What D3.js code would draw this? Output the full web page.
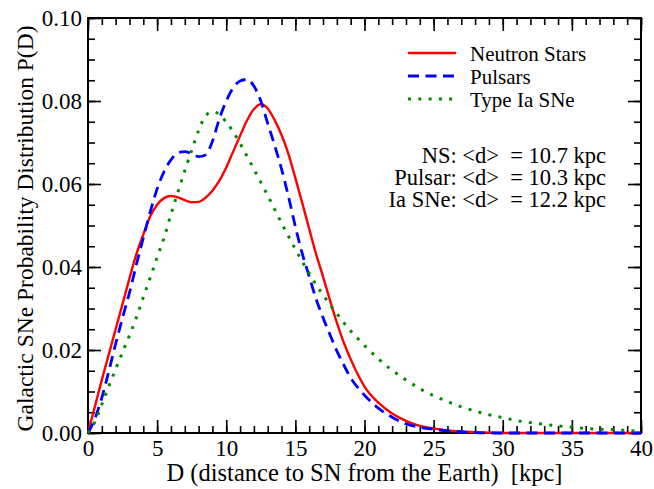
<!DOCTYPE html>
<html>
<head>
<meta charset="utf-8">
<script src="https://cdn.jsdelivr.net/npm/d3@7/dist/d3.min.js"></script>
<style>
  html, body { margin: 0; padding: 0; background: #fff; }
  svg { display: block; }
  svg text { font-family: "Liberation Serif", "Times New Roman", Times, serif; fill: #000; }
  .axis .domain { display: none; }
  .axis line { stroke: #000; stroke-width: 1.6; }
  .axis text { font-size: 23px; }
</style>
</head>
<body>
<div id="chart"></div>
<script>
// distance grid [kpc]
const distances = [
  0, 0.5, 1, 1.5, 2, 2.5, 3, 3.5, 4, 4.5, 5, 5.5, 6, 6.5, 7, 7.5, 8, 8.5, 9, 9.5,
  10, 10.5, 11, 11.5, 12, 12.5, 13, 13.5, 14, 14.5, 15, 15.5, 16, 16.5, 17, 17.5, 18, 18.5, 19, 19.5,
  20, 21, 22, 23, 24, 25, 26, 27, 28, 29, 30, 31, 32, 33, 34, 35, 36, 37, 38, 39, 40
];

const neutronStars = [
  0, 0.0064, 0.0128, 0.0189, 0.0250, 0.0311, 0.0373, 0.0431, 0.0478, 0.0522,
  0.0550, 0.0566, 0.0571, 0.0568, 0.0561, 0.0556, 0.0557, 0.0567, 0.0584, 0.0608,
  0.0640, 0.0678, 0.0716, 0.0753, 0.0780, 0.0792, 0.0782, 0.0754, 0.0718, 0.0672,
  0.0614, 0.0554, 0.0492, 0.0431, 0.0377, 0.0320, 0.0266, 0.0218, 0.0178, 0.0142,
  0.0112, 0.0073, 0.0047, 0.0029, 0.0017, 0.0011, 0.0006, 0.0003, 0.0002, 0.0001,
  0, 0, 0, 0, 0, 0, 0, 0, 0, 0, 0
];

const pulsars = [
  0, 0.0035, 0.0085, 0.0148, 0.0215, 0.0278, 0.0338, 0.0406, 0.0470, 0.0533,
  0.0588, 0.0630, 0.0658, 0.0675, 0.0678, 0.0673, 0.0666, 0.0670, 0.0703, 0.0757,
  0.0800, 0.0832, 0.0848, 0.0852, 0.0836, 0.0800, 0.0746, 0.0693, 0.0636, 0.0570,
  0.0497, 0.0432, 0.0377, 0.0323, 0.0278, 0.0237, 0.0198, 0.0164, 0.0133, 0.0110,
  0.0091, 0.0060, 0.0038, 0.0022, 0.0014, 0.0009, 0.0005, 0.0003, 0.0001, 0,
  0, 0, 0, 0, 0, 0, 0, 0, 0, 0, 0
];

const typeIa = [
  0, 0.0027, 0.0069, 0.0112, 0.0154, 0.0195, 0.0235, 0.0278, 0.0327, 0.0374,
  0.0423, 0.0470, 0.0527, 0.0580, 0.0632, 0.0681, 0.0729, 0.0764, 0.0774, 0.0768,
  0.0749, 0.0726, 0.0698, 0.0667, 0.0636, 0.0604, 0.0572, 0.0539, 0.0506, 0.0474,
  0.0443, 0.0413, 0.0385, 0.0357, 0.0333, 0.0309, 0.0288, 0.0266, 0.0246, 0.0228,
  0.0211, 0.0179, 0.0151, 0.0128, 0.0107, 0.0090, 0.0076, 0.0063, 0.0053, 0.0044,
  0.0037, 0.0030, 0.0025, 0.0021, 0.0017, 0.0014, 0.0011, 0.0009, 0.0008, 0.0006, 0.0004
];

const xMajorTicks = [0, 5, 10, 15, 20, 25, 30, 35, 40];
const yMajorTicks = [0, 0.02, 0.04, 0.06, 0.08, 0.10];
const legendLabels = ["Neutron Stars", "Pulsars", "Type Ia SNe"];
const meanLabels = ["NS: <d>  = 10.7 kpc", "Pulsar: <d>  = 10.3 kpc", "Ia SNe: <d>  = 12.2 kpc"];

document.addEventListener('DOMContentLoaded', function() {
    const W = 654, H = 489;
    const margin = { top: 18, right: 13, bottom: 56, left: 88 };
    const width = W - margin.left - margin.right;
    const height = H - margin.top - margin.bottom;
    const serif = '"Liberation Serif", "Times New Roman", Times, serif';

    const svg = d3.select("#chart").append("svg")
        .attr("width", W)
        .attr("height", H);

    const g = svg.append("g")
        .attr("transform", `translate(${margin.left},${margin.top})`);

    const x = d3.scaleLinear().domain([0, 40]).range([0, width]);
    const y = d3.scaleLinear().domain([0, 0.1]).range([height, 0]);

    const xMinor = d3.range(0, 41, 1);
    const yMinor = d3.range(0, 0.1001, 0.005);

    // minor ticks on all four sides
    g.append("g").attr("class", "axis").attr("transform", `translate(0,${height})`)
        .call(d3.axisBottom(x).tickValues(xMinor).tickSize(-7).tickFormat(""));
    g.append("g").attr("class", "axis")
        .call(d3.axisTop(x).tickValues(xMinor).tickSize(-7).tickFormat(""));
    g.append("g").attr("class", "axis")
        .call(d3.axisLeft(y).tickValues(yMinor).tickSize(-7).tickFormat(""));
    g.append("g").attr("class", "axis").attr("transform", `translate(${width},0)`)
        .call(d3.axisRight(y).tickValues(yMinor).tickSize(-7).tickFormat(""));

    // major ticks
    g.append("g").attr("class", "axis").attr("transform", `translate(0,${height})`)
        .call(d3.axisBottom(x).tickValues(xMajorTicks).tickSize(-13).tickPadding(7).tickFormat(d3.format("d")));
    g.append("g").attr("class", "axis")
        .call(d3.axisTop(x).tickValues(xMajorTicks).tickSize(-13).tickFormat(""));
    g.append("g").attr("class", "axis")
        .call(d3.axisLeft(y).tickValues(yMajorTicks).tickSize(-13).tickPadding(6).tickFormat(d3.format(".2f")));
    g.append("g").attr("class", "axis").attr("transform", `translate(${width},0)`)
        .call(d3.axisRight(y).tickValues(yMajorTicks).tickSize(-13).tickFormat(""));

    g.selectAll(".axis").attr("font-family", serif);

    // frame
    g.append("rect")
        .attr("width", width).attr("height", height)
        .attr("fill", "none").attr("stroke", "#000").attr("stroke-width", 2);

    // curves
    const series = [
        { name: legendLabels[0], values: neutronStars, color: "#ff0000", width: 2.4, dash: null },
        { name: legendLabels[1], values: pulsars, color: "#0000ff", width: 2.8, dash: "11,6.5" },
        { name: legendLabels[2], values: typeIa, color: "#008b00", width: 3, dash: "3,7.3" }
    ];

    const line = d3.line()
        .x(d => x(d[0]))
        .y(d => y(d[1]))
        .curve(d3.curveMonotoneX);

    series.forEach(s => {
        g.append("path")
            .datum(distances.map((d, i) => [d, s.values[i]]))
            .attr("fill", "none")
            .attr("stroke", s.color)
            .attr("stroke-width", s.width)
            .attr("stroke-dasharray", s.dash)
            .attr("d", line);
    });

    // legend
    const legend = svg.append("g").attr("transform", "translate(408,0)");
    const legendY = [53, 76, 99];
    series.forEach((s, i) => {
        legend.append("line")
            .attr("x1", 0).attr("x2", 48)
            .attr("y1", legendY[i]).attr("y2", legendY[i])
            .attr("stroke", s.color)
            .attr("stroke-width", s.width)
            .attr("stroke-dasharray", s.dash);
        legend.append("text")
            .attr("x", 62).attr("y", legendY[i] + 8)
            .attr("font-family", serif)
            .attr("font-size", 21)
            .text(s.name);
    });

    // mean distances
    const meanY = [163, 185, 207];
    meanLabels.forEach((t, i) => {
        svg.append("text")
            .attr("x", 606).attr("y", meanY[i])
            .attr("text-anchor", "end")
            .attr("font-family", serif)
            .attr("font-size", 22.5)
            .style("white-space", "pre")
            .text(t);
    });

    // axis titles
    svg.append("text")
        .attr("x", margin.left + width / 2).attr("y", 481)
        .attr("text-anchor", "middle")
        .attr("font-family", serif)
        .attr("font-size", 24.5)
        .style("white-space", "pre")
        .text("D (distance to SN from the Earth)  [kpc]");

    svg.append("text")
        .attr("transform", `translate(33,${margin.top + height / 2 + 3}) rotate(-90)`)
        .attr("text-anchor", "middle")
        .attr("font-family", serif)
        .attr("font-size", 23.5)
        .text("Galactic SNe Probability Distribution P(D)");
});
</script>
</body>
</html>
